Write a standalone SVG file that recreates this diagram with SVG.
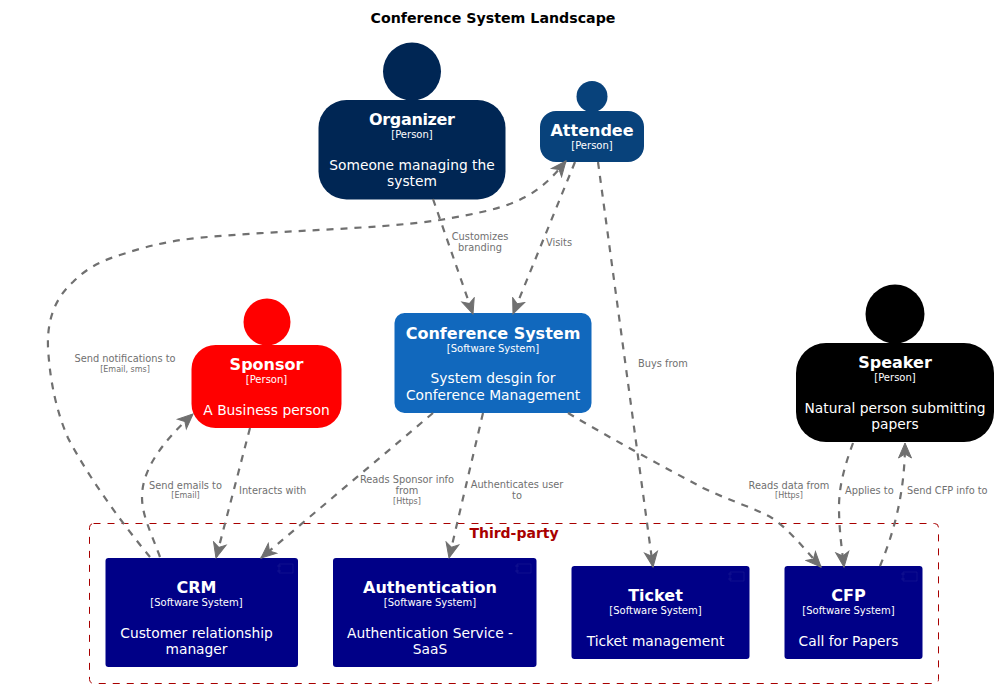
<svg xmlns="http://www.w3.org/2000/svg" width="998" height="688" viewBox="0 0 998 688">
<style>
text{font-family:"DejaVu Sans",sans-serif;text-anchor:middle;fill:#fff}
.title{font-size:14.2px;font-weight:bold;fill:#000}
.name{font-size:16px;font-weight:bold}
.type{font-size:10px}
.desc{font-size:13.8px}
.rel{font-size:9.8px;fill:#707070}
.rels{font-size:8px;fill:#707070}
.l{text-anchor:start}
.bnd{font-size:14px;font-weight:bold;fill:#A80000}
.c{fill:none;stroke:#707070;stroke-width:2.2;stroke-dasharray:7,7;marker-end:url(#arr)}
.icon{fill:none;stroke:#fff;stroke-opacity:.06;stroke-width:1}
</style>
<defs>
<marker id="arr" markerUnits="userSpaceOnUse" markerWidth="20" markerHeight="20" refX="16" refY="8" orient="auto" viewBox="0 0 20 16"><path d="M16,8L1,1.500L5,8L1,14.500Z" fill="#707070" stroke="#707070"/></marker>
</defs>
<text class="title" x="493" y="23">Conference System Landscape</text>
<g id="third-party">
<rect x="89.500" y="523.500" width="849" height="160" rx="4" fill="none" stroke="#A80000" stroke-dasharray="7,7"/>
<text class="bnd" x="514" y="538">Third-party</text>
</g>
<g id="organizer">
<circle cx="412" cy="71.500" r="29" fill="#002654"/>
<rect x="318.500" y="100" width="187" height="99.500" rx="28" fill="#002654"/>
<text class="name" x="412" y="125" textLength="86">Organizer</text>
<text class="type" x="412" y="138">[Person]</text>
<text class="desc" x="412" y="170">Someone managing the</text>
<text class="desc" x="412" y="186">system</text>
</g>
<g id="attendee">
<circle cx="592" cy="96.500" r="15.500" fill="#08427B"/>
<rect x="540" y="111" width="104" height="51" rx="16" fill="#08427B"/>
<text class="name" x="592" y="136">Attendee</text>
<text class="type" x="592" y="149">[Person]</text>
</g>
<g id="sponsor">
<circle cx="267" cy="322" r="23.500" fill="#FF0000"/>
<rect x="191.500" y="345" width="150" height="83" rx="24" fill="#FF0000"/>
<text class="name" x="266.500" y="370">Sponsor</text>
<text class="type" x="266.500" y="383">[Person]</text>
<text class="desc" x="266.500" y="415">A Business person</text>
</g>
<g id="speaker">
<circle cx="895" cy="314" r="29.500" fill="#000"/>
<rect x="796" y="343" width="198" height="99" rx="30" fill="#000"/>
<text class="name" x="895" y="368">Speaker</text>
<text class="type" x="895" y="381">[Person]</text>
<text class="desc" x="895" y="413">Natural person submitting</text>
<text class="desc" x="895" y="429">papers</text>
</g>
<g id="conference-system">
<rect x="394.500" y="313" width="197" height="100" rx="10" fill="#1168BD"/>
<text class="name" x="493" y="339">Conference System</text>
<text class="type" x="493" y="352">[Software System]</text>
<text class="desc" x="493" y="383">System desgin for</text>
<text class="desc" x="493" y="400">Conference Management</text>
</g>
<g id="crm">
<rect x="105.500" y="558" width="192.500" height="109" rx="3" fill="#000087"/>
<path class="icon" d="M279,564H293V573H279ZM277,566H281M277,571H281"/>
<text class="name" x="196.500" y="593">CRM</text>
<text class="type" x="196.500" y="606">[Software System]</text>
<text class="desc" x="196.500" y="638">Customer relationship</text>
<text class="desc" x="196.500" y="654">manager</text>
</g>
<g id="authentication">
<rect x="333" y="558" width="203.500" height="109" rx="3" fill="#000087"/>
<path class="icon" d="M517,564H531V573H517ZM515,566H519M515,571H519"/>
<text class="name" x="430" y="593">Authentication</text>
<text class="type" x="430" y="606">[Software System]</text>
<text class="desc" x="430" y="638">Authentication Service -</text>
<text class="desc" x="430" y="654">SaaS</text>
</g>
<g id="ticket">
<rect x="571.500" y="566" width="178" height="93" rx="3" fill="#000087"/>
<path class="icon" d="M730,572H744V581H730ZM728,574H732M728,579H732"/>
<text class="name" x="655.500" y="601">Ticket</text>
<text class="type" x="655.500" y="614">[Software System]</text>
<text class="desc" x="655.500" y="646">Ticket management</text>
</g>
<g id="cfp">
<rect x="784.500" y="566" width="138" height="93" rx="3" fill="#000087"/>
<path class="icon" d="M903,572H917V581H903ZM901,574H905M901,579H905"/>
<text class="name" x="848.500" y="601">CFP</text>
<text class="type" x="848.500" y="614">[Software System]</text>
<text class="desc" x="848.500" y="646">Call for Papers</text>
</g>
<g id="connectors">
<path class="c" d="M433,199L473,314"/>
<path class="c" d="M575,162L513,314"/>
<path class="c" d="M598,162L653,567"/>
<path class="c" d="M433,413L261,558"/>
<path class="c" d="M483,413L449,558"/>
<path class="c" d="M568,413C610,438 660,465 703,488C735,503 755,508 772,518C790,530 805,550 821,567"/>
<path class="c" d="M250,428L216,558"/>
<path class="c" d="M160,557C150,530 142,515 142,497C142,465 170,435 193,414"/>
<path class="c" d="M150,557C125,527 90,480 68,438C58,415 50,385 48,347C47,320 55,298 73,282C90,265 105,260 120,255C150,245 170,241 197,238C280,230 370,230 440,220C480,213 505,208 523,198C540,190 553,177 566,161"/>
<path class="c" d="M853,443C845,465 839,485 839,507C839,530 842,550 844,567"/>
<path class="c" d="M880,566C895,530 905,490 905,443"/>
<text class="rel" x="480" y="240">Customizes</text>
<text class="rel" x="480" y="251">branding</text>
<text class="rel l" x="546" y="246">Visits</text>
<text class="rel l" x="638" y="367">Buys from</text>
<text class="rel" x="125" y="362">Send notifications to</text>
<text class="rels" x="125" y="372">[Email, sms]</text>
<text class="rel" x="185.500" y="489">Send emails to</text>
<text class="rels" x="185.500" y="498">[Email]</text>
<text class="rel l" x="239" y="494">Interacts with</text>
<text class="rel" x="407" y="483">Reads Sponsor info</text>
<text class="rel" x="407" y="494">from</text>
<text class="rels" x="407" y="504">[Https]</text>
<text class="rel" x="517" y="488">Authenticates user</text>
<text class="rel" x="517" y="499">to</text>
<text class="rel" x="789" y="489">Reads data from</text>
<text class="rels" x="789" y="498">[Https]</text>
<text class="rel l" x="845" y="494">Applies to</text>
<text class="rel l" x="907" y="494">Send CFP info to</text>
</g>
</svg>
